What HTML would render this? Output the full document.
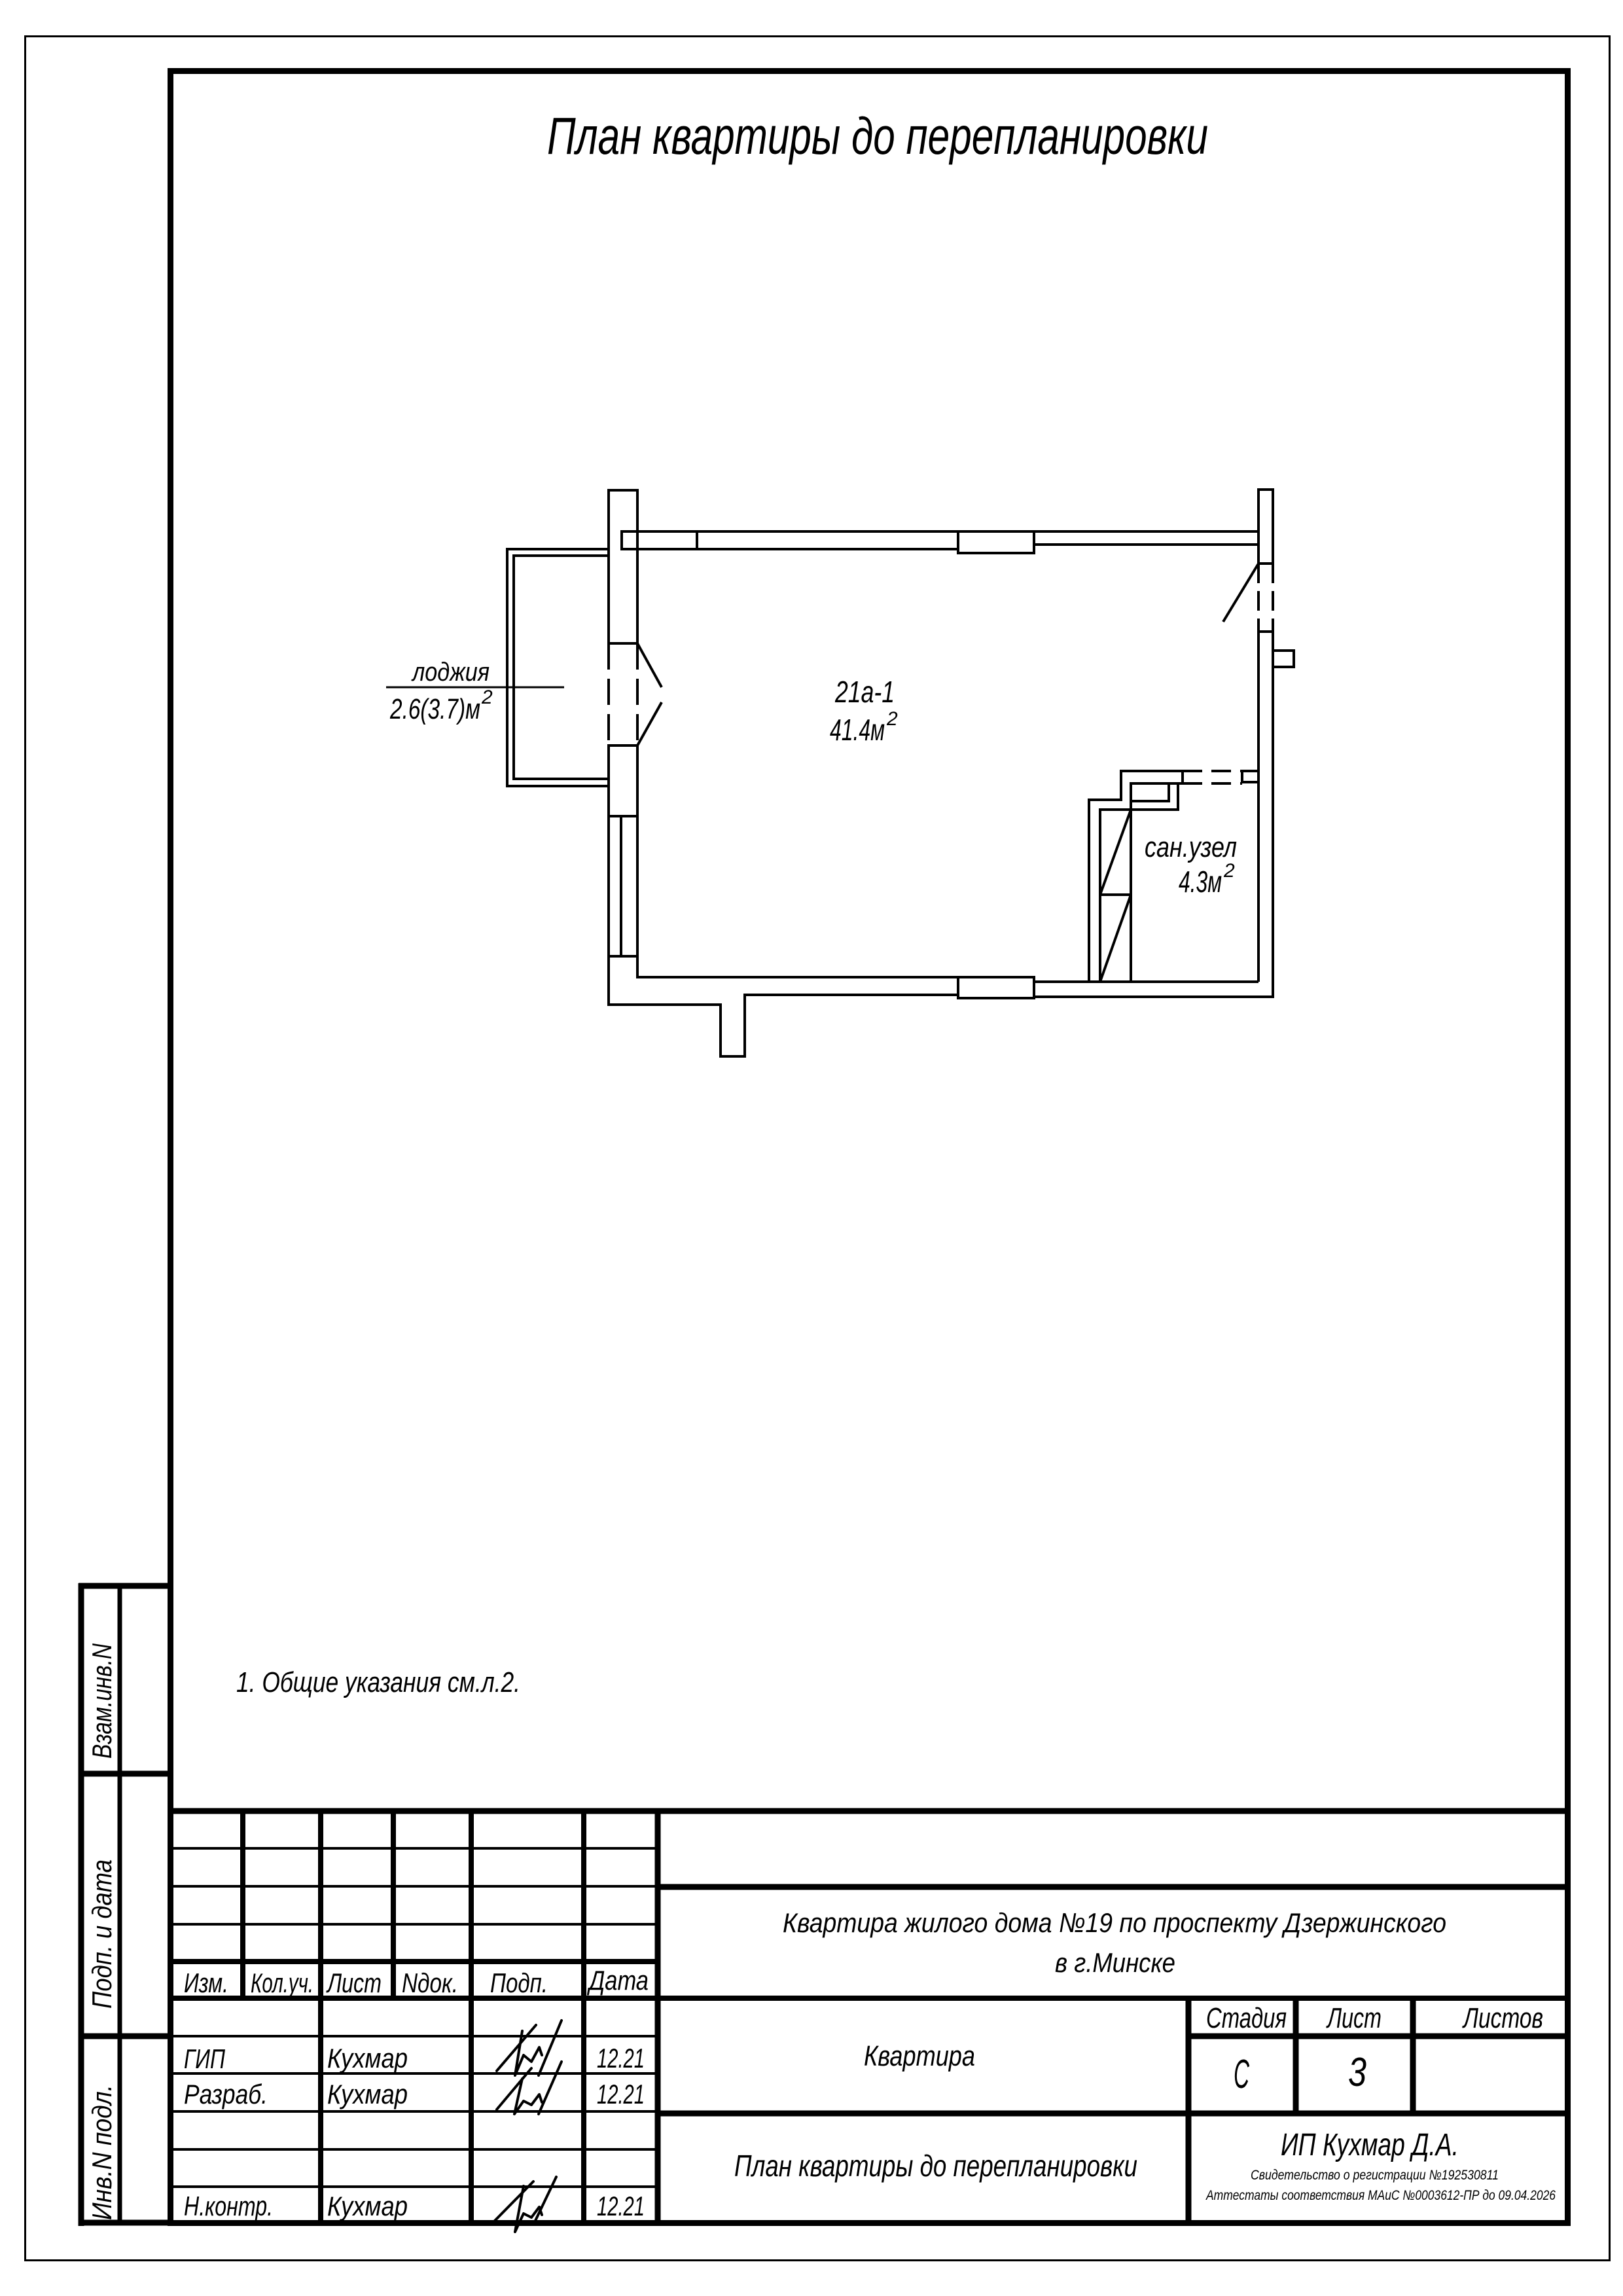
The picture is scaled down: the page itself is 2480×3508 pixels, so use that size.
<!DOCTYPE html>
<html><head><meta charset="utf-8"><style>
html,body{margin:0;padding:0;background:#fff;}
svg{display:block;}
text{font-family:"Liberation Sans","DejaVu Sans",sans-serif;font-style:italic;fill:#000;}
</style></head><body>
<svg width="2480" height="3508" viewBox="0 0 2480 3508" xmlns="http://www.w3.org/2000/svg">
<rect width="2480" height="3508" fill="#fff"/>
<!-- borders -->
<rect x="38.5" y="55.5" width="2421" height="3398" fill="none" stroke="#000" stroke-width="3"/>
<rect x="260.5" y="108.5" width="2135" height="3288" fill="none" stroke="#000" stroke-width="9"/>

<!-- title -->
<text x="836" y="235" font-size="80" textLength="1010" lengthAdjust="spacingAndGlyphs">План квартиры до перепланировки</text>

<!-- plan -->
<g fill="none" stroke="#000" stroke-width="4">
<rect x="930" y="749" width="44" height="234"/>
<line x1="930" y1="983" x2="930" y2="1139" stroke-dasharray="40,14"/>
<line x1="974" y1="983" x2="974" y2="1139" stroke-dasharray="40,14"/>
<line x1="974" y1="983" x2="1011" y2="1050"/>
<line x1="974" y1="1139" x2="1011" y2="1073"/>
<rect x="930" y="1139" width="44" height="108"/>
<line x1="930" y1="1247" x2="930" y2="1461"/>
<line x1="949" y1="1247" x2="949" y2="1461"/>
<line x1="974" y1="1247" x2="974" y2="1461"/>
<path d="M930,1461 L974,1461 M930,1461 L930,1535 L1101,1535 L1101,1614 L1138,1614 L1138,1520 L1464,1520 M974,1461 L974,1493 L1464,1493"/>
<rect x="1464" y="1493" width="116" height="32"/>
<path d="M1580,1500 L1923,1500 M1580,1523 L1945,1523 L1945,965 M1923,1500 L1923,965 L1945,965 M1945,994 L1977,994 L1977,1019 L1945,1019"/>
<rect x="1923" y="748" width="22" height="113"/>
<line x1="1923" y1="861" x2="1923" y2="965" stroke-dasharray="30,12"/>
<line x1="1945" y1="861" x2="1945" y2="965" stroke-dasharray="30,12"/>
<line x1="1923" y1="861" x2="1869" y2="950"/>
<rect x="950" y="812" width="115" height="27"/>
<path d="M1065,812 L1464,812 M1065,839 L1464,839"/>
<rect x="1464" y="812" width="116" height="33"/>
<path d="M1580,812 L1923,812 M1580,832 L1923,832"/>
<!-- loggia -->
<path d="M930,839 L775,839 L775,1201 L930,1201 M930,849 L785,849 L785,1190 L930,1190"/>
<line x1="590" y1="1050" x2="862" y2="1050" stroke-width="3"/>
<!-- bathroom -->
<path d="M1664,1500 L1664,1222 L1713,1222 L1713,1178 L1807,1178 L1807,1197 L1728,1197 M1800,1197 L1800,1237 L1681,1237 L1681,1500"/>
<rect x="1728" y="1197" width="58" height="27"/>
<line x1="1728" y1="1197" x2="1728" y2="1500"/>
<line x1="1681" y1="1367" x2="1728" y2="1367"/>
<line x1="1681" y1="1367" x2="1728" y2="1237"/>
<line x1="1681" y1="1500" x2="1728" y2="1367"/>
<line x1="1807" y1="1178" x2="1898" y2="1178" stroke-dasharray="30,14"/>
<line x1="1807" y1="1197" x2="1898" y2="1197" stroke-dasharray="30,14"/>
<rect x="1898" y="1178" width="25" height="17"/>
</g>
<text x="1276" y="1073" font-size="46" textLength="91" lengthAdjust="spacingAndGlyphs">21а-1</text>
<text x="1268" y="1131" font-size="46" textLength="84" lengthAdjust="spacingAndGlyphs">41.4м</text>
<text x="1355" y="1108" font-size="30">2</text>
<text x="1749" y="1309" font-size="44" textLength="141" lengthAdjust="spacingAndGlyphs">сан.узел</text>
<text x="1801" y="1363" font-size="46" textLength="66" lengthAdjust="spacingAndGlyphs">4.3м</text>
<text x="1870" y="1340" font-size="30">2</text>
<text x="630" y="1040" font-size="40" textLength="118" lengthAdjust="spacingAndGlyphs">лоджия</text>
<text x="596" y="1098" font-size="44" textLength="138" lengthAdjust="spacingAndGlyphs">2.6(3.7)м</text>
<text x="736" y="1075" font-size="30">2</text>

<!-- notes -->
<text x="361" y="2585" font-size="44" textLength="434" lengthAdjust="spacingAndGlyphs">1. Общие указания см.л.2.</text>

<!-- side strip -->
<g stroke="#000" fill="none">
<line x1="124" y1="2419" x2="124" y2="3401" stroke-width="9"/>
<line x1="183" y1="2423" x2="183" y2="3396" stroke-width="7"/>
<line x1="120" y1="2423" x2="260" y2="2423" stroke-width="9"/>
<line x1="120" y1="2710" x2="260" y2="2710" stroke-width="9"/>
<line x1="120" y1="3111" x2="260" y2="3111" stroke-width="9"/>
<line x1="120" y1="3396" x2="260" y2="3396" stroke-width="9"/>
</g>
<text transform="translate(170,2687) rotate(-90)" font-size="42" textLength="176" lengthAdjust="spacingAndGlyphs">Взам.инв.N</text>
<text transform="translate(170,3069) rotate(-90)" font-size="42" textLength="228" lengthAdjust="spacingAndGlyphs">Подп.  и  дата</text>
<text transform="translate(170,3392) rotate(-90)" font-size="42" textLength="207" lengthAdjust="spacingAndGlyphs">Инв.N подл.</text>

<!-- title block -->
<g stroke="#000" fill="none">
<line x1="260" y1="2767" x2="2396" y2="2767" stroke-width="9"/>
<g stroke-width="4">
<line x1="260" y1="2824" x2="1005" y2="2824"/>
<line x1="260" y1="2882" x2="1005" y2="2882"/>
<line x1="260" y1="2940" x2="1005" y2="2940"/>
<line x1="260" y1="3111" x2="1005" y2="3111"/>
<line x1="260" y1="3168" x2="1005" y2="3168"/>
<line x1="260" y1="3226" x2="1005" y2="3226"/>
<line x1="260" y1="3284" x2="1005" y2="3284"/>
<line x1="260" y1="3341" x2="1005" y2="3341"/>
</g>
<g stroke-width="8">
<line x1="260" y1="2997" x2="1005" y2="2997"/>
<line x1="260" y1="3053" x2="2396" y2="3053"/>
<line x1="371" y1="2767" x2="371" y2="3053"/>
<line x1="601" y1="2767" x2="601" y2="3053"/>
<line x1="490" y1="2767" x2="490" y2="3397"/>
<line x1="720" y1="2767" x2="720" y2="3397"/>
<line x1="892" y1="2767" x2="892" y2="3397"/>
</g>
<g stroke-width="9">
<line x1="1005" y1="2767" x2="1005" y2="3397"/>
<line x1="1005" y1="2883" x2="2396" y2="2883"/>
<line x1="1005" y1="3229" x2="2396" y2="3229"/>
<line x1="1816" y1="3053" x2="1816" y2="3397"/>
<line x1="1980" y1="3053" x2="1980" y2="3229"/>
<line x1="2159" y1="3053" x2="2159" y2="3229"/>
<line x1="1816" y1="3111" x2="2396" y2="3111"/>
</g>
</g>

<text x="281" y="3044" font-size="42" textLength="68" lengthAdjust="spacingAndGlyphs">Изм.</text>
<text x="383" y="3044" font-size="42" textLength="96" lengthAdjust="spacingAndGlyphs">Кол.уч.</text>
<text x="500" y="3044" font-size="42" textLength="83" lengthAdjust="spacingAndGlyphs">Лист</text>
<text x="614" y="3044" font-size="42" textLength="86" lengthAdjust="spacingAndGlyphs">Nдок.</text>
<text x="749" y="3044" font-size="42" textLength="88" lengthAdjust="spacingAndGlyphs">Подп.</text>
<text x="900" y="3040" font-size="42" textLength="91" lengthAdjust="spacingAndGlyphs">Дата</text>

<text x="281" y="3160" font-size="42" textLength="63" lengthAdjust="spacingAndGlyphs">ГИП</text>
<text x="500" y="3159" font-size="42" textLength="123" lengthAdjust="spacingAndGlyphs">Кухмар</text>
<text x="912" y="3159" font-size="42" textLength="73" lengthAdjust="spacingAndGlyphs">12.21</text>
<text x="281" y="3214" font-size="42" textLength="128" lengthAdjust="spacingAndGlyphs">Разраб.</text>
<text x="500" y="3214" font-size="42" textLength="123" lengthAdjust="spacingAndGlyphs">Кухмар</text>
<text x="912" y="3214" font-size="42" textLength="73" lengthAdjust="spacingAndGlyphs">12.21</text>
<text x="281" y="3385" font-size="42" textLength="136" lengthAdjust="spacingAndGlyphs">Н.контр.</text>
<text x="500" y="3385" font-size="42" textLength="123" lengthAdjust="spacingAndGlyphs">Кухмар</text>
<text x="912" y="3385" font-size="42" textLength="73" lengthAdjust="spacingAndGlyphs">12.21</text>

<!-- signatures -->
<g fill="none" stroke="#000" stroke-width="4" stroke-linecap="round" stroke-linejoin="round">
<path d="M759,3164 L819,3094 M798,3103 L787,3171 L800,3140 L812,3150 L824,3128 L828,3140 M858,3087 L823,3171"/>
<path d="M759,3223 L812,3160 M798,3176 L786,3230 L800,3210 L812,3216 L824,3200 L828,3212 M858,3150 L823,3230"/>
<path d="M754,3395 L815,3333 M800,3340 L787,3410 L800,3382 L812,3388 L824,3372 L828,3384 M850,3326 L817,3395"/>
</g>

<text x="1196" y="2952" font-size="42" textLength="1014" lengthAdjust="spacingAndGlyphs">Квартира  жилого дома №19 по проспекту Дзержинского</text>
<text x="1612" y="3013" font-size="42" textLength="184" lengthAdjust="spacingAndGlyphs">в г.Минске</text>
<text x="1320" y="3156" font-size="44" textLength="170" lengthAdjust="spacingAndGlyphs">Квартира</text>
<text x="1843" y="3098" font-size="44" textLength="123" lengthAdjust="spacingAndGlyphs">Стадия</text>
<text x="2028" y="3098" font-size="44" textLength="83" lengthAdjust="spacingAndGlyphs">Лист</text>
<text x="2236" y="3098" font-size="44" textLength="122" lengthAdjust="spacingAndGlyphs">Листов</text>
<text x="1885" y="3190" font-size="62" textLength="24" lengthAdjust="spacingAndGlyphs">С</text>
<text x="2060" y="3187" font-size="62" textLength="28" lengthAdjust="spacingAndGlyphs">3</text>
<text x="1122" y="3325" font-size="46" textLength="616" lengthAdjust="spacingAndGlyphs">План квартиры до перепланировки</text>
<text x="1957" y="3293" font-size="48" textLength="272" lengthAdjust="spacingAndGlyphs">ИП Кухмар Д.А.</text>
<text x="1911" y="3330" font-size="21" textLength="379" lengthAdjust="spacingAndGlyphs">Свидетельство о регистрации №192530811</text>
<text x="1843" y="3361" font-size="21" textLength="534" lengthAdjust="spacingAndGlyphs">Аттестаты соответствия МАиС №0003612-ПР до 09.04.2026</text>
</svg>
</body></html>
